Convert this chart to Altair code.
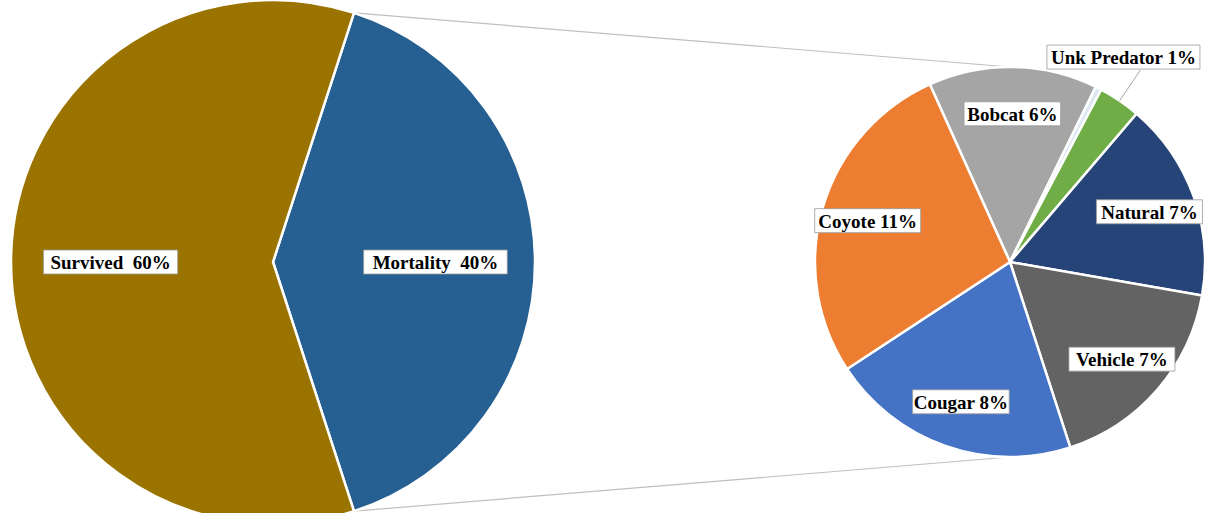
import math
import altair as alt
import pandas as pd

# ---- data (percent of all animals) ----
outer_cats = ["Mortality", "Survived"]
outer_vals = [40, 60]
outer_colors = ["#265F91", "#9A7300"]

inner_cats = ["Bobcat", "Other", "Unk Predator", "Natural", "Vehicle", "Cougar", "Coyote"]
inner_vals = [5.6, 0.2, 1.4, 6.6, 6.9, 8.3, 11.0]
inner_colors = ["#A5A5A5", "#DCE6F0", "#70AD47", "#264478", "#636363", "#4472C4", "#ED7D31"]
inner_show = [True, False, True, True, True, True, True]

# ---- layout ----
W, H = 1211, 513
L_CX, L_CY, L_R = 273, 262, 262
R_CX, R_CY, R_R = 1010, 262, 195
TAU = 2 * math.pi
l_start = math.pi / 2 - math.pi * outer_vals[0] / sum(outer_vals)  # mortality centred on the right
r_start = math.radians(335.7)
FONT = "Liberation Serif"
FS = 19


def frame(cats, vals, sep, show):
    return pd.DataFrame({
        "cat": cats,
        "value": vals,
        "idx": list(range(len(cats))),
        "label": [f"{c}{sep}{round(v)}%" if s else "" for c, v, s in zip(cats, vals, show)],
    })


outer_df = frame(outer_cats, outer_vals, "\u00a0 ", [True, True])
inner_df = frame(inner_cats, inner_vals, " ", inner_show)


def pie_layers(df, cx, cy, r, start, colors, lab_frac):
    base = alt.Chart(df)
    arcs = base.mark_arc(outerRadius=r, stroke="white", strokeWidth=2.5).encode(
        theta=alt.Theta("value:Q", stack=True, scale=alt.Scale(range=[start, start + TAU])),
        color=alt.Color("cat:N", scale=alt.Scale(domain=list(df["cat"]), range=colors), legend=None),
        order=alt.Order("idx:Q"),
        x=alt.value(cx),
        y=alt.value(cy),
    )
    pos = base.transform_window(
        cum="sum(value)", sort=[alt.SortField("idx")], frame=[None, 0]
    ).transform_joinaggregate(
        total="sum(value)"
    ).transform_calculate(
        th=f"{start} + {TAU} * (datum.cum - datum.value / 2) / datum.total",
        bw="length(datum.label) * 9.4 + 12",
    ).transform_filter("datum.label != ''")

    inside = pos.transform_filter("datum.value / datum.total >= 0.05").transform_calculate(
        lx=f"{cx} + {r * lab_frac} * sin(datum.th)",
        ly=f"{cy} - {r * lab_frac} * cos(datum.th)",
    )
    outside = pos.transform_filter("datum.value / datum.total < 0.05").transform_calculate(
        ax=f"{cx} + {r} * sin(datum.th)",
        ay=f"{cy} - {r} * cos(datum.th)",
        bx=f"{cx} + {r * 1.19} * sin(datum.th)",
        by=f"{cy} - {r * 1.19} * cos(datum.th)",
    ).transform_calculate(
        lx="datum.bx - 17",
        ly="datum.by - 13",
    )
    layers = [arcs]
    leader = outside.mark_rule(color="#a6a6a6", strokeWidth=1).encode(
        x=alt.X("ax:Q", scale=None, axis=None),
        y=alt.Y("ay:Q", scale=None, axis=None),
        x2="bx:Q",
        y2="by:Q",
    )
    layers.append(leader)
    for src in (inside, outside):
        boxes = src.transform_calculate(
            x1="datum.lx - datum.bw / 2", x2="datum.lx + datum.bw / 2",
            y1="datum.ly - 12", y2="datum.ly + 12",
        ).mark_rect(fill="white", stroke="#9a9a9a", strokeWidth=0.8).encode(
            x=alt.X("x1:Q", scale=None, axis=None),
            x2="x2:Q",
            y=alt.Y("y1:Q", scale=None, axis=None),
            y2="y2:Q",
        )
        texts = src.mark_text(
            font=FONT, fontWeight="bold", fontSize=FS, color="black",
            align="center", baseline="middle", dy=1,
        ).encode(
            x=alt.X("lx:Q", scale=None, axis=None),
            y=alt.Y("ly:Q", scale=None, axis=None),
            text="label:N",
        )
        layers += [boxes, texts]
    return layers


# connector lines from the mortality slice edges to the top/bottom of the secondary pie
mort_frac = outer_vals[0] / sum(outer_vals)
a_top = l_start
a_bot = l_start + TAU * mort_frac
conn = pd.DataFrame({
    "x": [L_CX + L_R * math.sin(a_top), L_CX + L_R * math.sin(a_bot)],
    "y": [L_CY - L_R * math.cos(a_top), L_CY - L_R * math.cos(a_bot)],
    "x2": [R_CX, R_CX],
    "y2": [R_CY - R_R, R_CY + R_R],
})
connectors = alt.Chart(conn).mark_rule(color="#bfbfbf", strokeWidth=1.2).encode(
    x=alt.X("x:Q", scale=None, axis=None),
    y=alt.Y("y:Q", scale=None, axis=None),
    x2="x2:Q",
    y2="y2:Q",
)

left = pie_layers(outer_df, L_CX, L_CY, L_R, l_start, outer_colors, 0.62)
right = pie_layers(inner_df, R_CX, R_CY, R_R, r_start, inner_colors, 0.76)

chart = alt.layer(connectors, *left, *right).resolve_scale(
    theta="independent", color="independent"
).properties(
    width=W, height=H, padding=0, autosize="none", background="white"
).configure_view(stroke=None)

chart.save("out.html", embed_options={"renderer": "svg", "actions": False})
